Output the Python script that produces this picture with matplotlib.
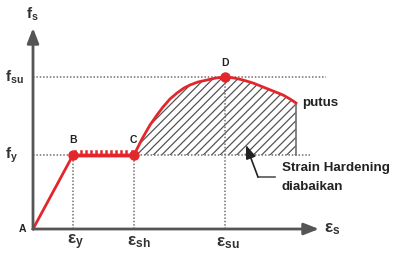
import matplotlib
matplotlib.use("Agg")
import matplotlib.pyplot as plt
import matplotlib.patheffects as pe

plt.rcParams["font.family"] = ["Liberation Sans", "DejaVu Sans"]
plt.rcParams["mathtext.fontset"] = "custom"
plt.rcParams["mathtext.rm"] = "Liberation Sans"
plt.rcParams["mathtext.it"] = "Liberation Sans"
plt.rcParams["mathtext.bf"] = "Liberation Sans:bold"
plt.rcParams["hatch.linewidth"] = 0.9
plt.rcParams["hatch.color"] = "#555555"

# --- Key points (strain, stress) ---
eps_y, eps_sh, eps_su, eps_break = 40, 101, 192, 263
f_y, f_su = 74, 152

# strain hardening branch C -> D -> putus
sh_strain = [101, 109, 117, 124, 130, 137, 144, 151, 157, 165, 174, 183, 192,
             201, 210, 220, 230, 240, 250, 257, 263]
sh_stress = [74, 90, 104, 114, 122, 130, 136, 141, 144, 147, 149, 151, 152,
             151, 149, 146, 142, 138, 134, 130, 126]

red = "#e3262b"
grey = "#707070"
axis_col = "#555555"
label_col = "#333333"

fig = plt.figure(figsize=(3.96, 2.54), dpi=100)
ax = fig.add_axes([0, 0, 1, 1])
ax.set_xlim(-33, 363)
ax.set_ylim(-25, 229)
ax.axis("off")

# dotted guide lines
ax.plot([0, 293], [f_su, f_su], ls=(0, (1, 1.2)), color=grey, lw=1.1)
ax.plot([0, 277], [f_y, f_y], ls=(0, (1, 1.2)), color=grey, lw=1.1)
for e, f in [(eps_y, f_y), (eps_sh, f_y), (eps_su, f_su)]:
    ax.plot([e, e], [0, f], ls=(0, (1, 1.2)), color=grey, lw=1.1)

# hatched area (strain hardening neglected)
ax.fill_between(sh_strain, f_y, sh_stress, facecolor="none", edgecolor="#555555",
                hatch="////", lw=0)
ax.plot([eps_break, eps_break], [f_y, sh_stress[-1]], color=grey, lw=1.2)

# axes with arrows
ax.annotate("", xy=(0, 201), xytext=(0, 0),
            arrowprops=dict(arrowstyle="-|>,head_length=0.9,head_width=0.35",
                            color=axis_col, lw=2, shrinkA=0, shrinkB=0))
ax.annotate("", xy=(286, 0), xytext=(0, 0),
            arrowprops=dict(arrowstyle="-|>,head_length=0.9,head_width=0.35",
                            color=axis_col, lw=2, shrinkA=0, shrinkB=0))

# stress-strain curve
ax.plot([0, eps_y], [0, f_y], color=red, lw=2)
ax.plot([eps_y, eps_sh], [f_y, f_y], color=red, lw=2.5,
        path_effects=[pe.Normal(),
                      pe.withTickedStroke(angle=90, spacing=3.5, length=0.9, linewidth=1.8)])
ax.plot(sh_strain, sh_stress, color=red, lw=2)
ax.plot([eps_y, eps_sh, eps_su], [f_y, f_y, f_su], "o", color=red, ms=6.5, zorder=5)

# arrow to hatched area
ax.plot([242, 225], [52, 52], color=axis_col, lw=1.2)
ax.annotate("", xy=(213, 84), xytext=(225, 52),
            arrowprops=dict(arrowstyle="-|>,head_length=0.8,head_width=0.3",
                            color="#222222", lw=1.2, shrinkA=0, shrinkB=0))

# labels
bold = dict(fontweight="bold", fontsize=7.5, ha="center", va="center", color="#222222")
ax.text(-11, 0, "A", **bold)
ax.text(eps_y, f_y + 15, "B", **bold)
ax.text(eps_sh - 1, f_y + 15, "C", **bold)
ax.text(eps_su, f_su + 14, "D", **bold)

lab = dict(fontsize=11, ha="center", va="center", color=label_col)
ax.text(-1, 215, r"$\mathbf{f_s}$", **lab)
ax.text(-19, f_su, r"$\mathbf{f_{su}}$", **lab)
ax.text(-21, f_y, r"$\mathbf{f_y}$", **lab)

eps = dict(fontsize=12.5, ha="center", va="center", color=label_col)
ax.text(eps_y + 3, -13, r"$\mathbf{ε_y}$", **eps)
ax.text(eps_sh + 5, -13, r"$\mathbf{ε_{sh}}$", **eps)
ax.text(eps_su + 3, -14, r"$\mathbf{ε_{su}}$", **eps)
ax.text(299, 0, r"$\mathbf{ε_s}$", **eps)

txt = dict(fontsize=9.6, fontweight="bold", ha="left", va="center", color="#222222")
ax.text(269, 126, "putus", **txt)
ax.text(249, 61, "Strain Hardening", **txt)
ax.text(249, 42, "diabaikan", **txt)

fig.savefig("out.png", dpi=100)
